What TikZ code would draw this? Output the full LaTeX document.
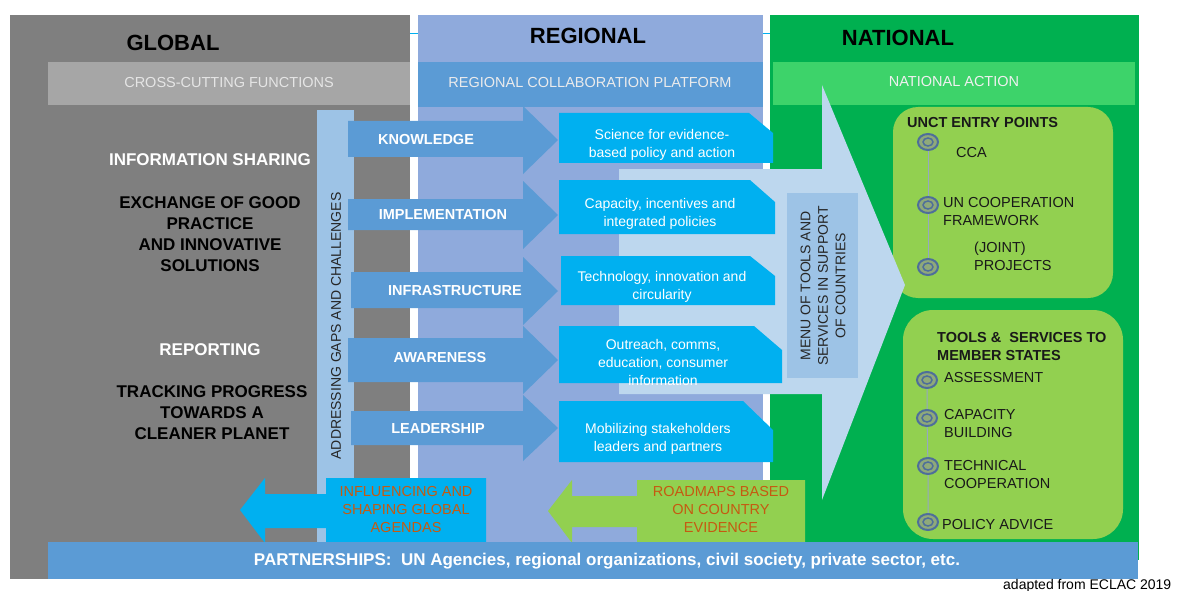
\documentclass[tikz,border=0pt]{standalone}
\usepackage{fontspec}
\setmainfont{Liberation Sans}
\usetikzlibrary{shapes.geometric}

\definecolor{panelgray}{HTML}{7F7F7F}
\definecolor{crossgray}{HTML}{A6A6A6}
\definecolor{regblue}{HTML}{8FAADC}
\definecolor{midblue}{HTML}{5B9BD5}
\definecolor{natgreen}{HTML}{00B050}
\definecolor{actgreen}{HTML}{3DD36A}
\definecolor{paleblue}{HTML}{9DC3E6}
\definecolor{skyblue}{HTML}{00B0F0}
\definecolor{menublue}{HTML}{BDD7EE}
\definecolor{leafgreen}{HTML}{92D050}
\definecolor{rust}{HTML}{C55A11}
\definecolor{ringblue}{HTML}{4E6E9A}
\definecolor{ringfill}{HTML}{8FA97A}

\begin{document}
\begin{tikzpicture}[x=1pt,y=-1pt,
  every node/.style={inner sep=0pt,align=center},
  title/.style={font=\fontsize{22}{26}\selectfont\bfseries},
  bartext/.style={font=\fontsize{14.5}{17}\selectfont},
  globtext/.style={font=\fontsize{17}{21}\selectfont\bfseries},
  chevtext/.style={font=\fontsize{14.5}{17}\selectfont\bfseries,white},
  boxtext/.style={font=\fontsize{14}{18}\selectfont,white},
  sidetext/.style={font=\fontsize{14}{17.5}\selectfont,black!85,rotate=90},
  item/.style={font=\fontsize{14.5}{18}\selectfont,anchor=west,align=left,black!90},
  backtext/.style={font=\fontsize{14.5}{18}\selectfont,rust},
  ring/.style={ellipse,draw=ringblue,line width=2pt,fill=ringfill,
    minimum width=20pt,minimum height=16pt,
    path picture={\draw[ringblue,line width=1.5pt]
      (path picture bounding box.center) ellipse [x radius=5,y radius=4];}},
  link/.style={draw=ringblue!60,line width=1pt}]

\fill[white] (0,0) rectangle (1178,591);
\useasboundingbox (0,0) rectangle (1178,591);

\draw[skyblue,line width=1pt] (405,34) -- (775,34);

\fill[panelgray] (10,15) rectangle (410,579);
\fill[regblue]   (418,15) rectangle (763,560);
\fill[natgreen]  (770,15) rectangle (1139,560);

\fill[crossgray] (48,62) rectangle (410,105);
\fill[midblue]   (418,62) rectangle (763,107);
\fill[actgreen]  (773,62) rectangle (1135,105);

\fill[paleblue] (317,110) rectangle (354,545);

\fill[leafgreen,rounded corners=25pt] (893,107) rectangle (1113,298);
\fill[leafgreen,rounded corners=30pt] (903,310) rectangle (1123,539);

\fill[menublue] (619,169) -- (822,169) -- (822,85) -- (905,285) -- (822,500)
  -- (822,394) -- (619,394) -- cycle;
\fill[paleblue] (787,193) rectangle (858,378);

\fill[midblue] (348,121) -- (523,121) -- (523,106) -- (558,140) -- (523,174)
  -- (523,157) -- (348,157) -- cycle;
\fill[midblue] (348,199) -- (523,199) -- (523,181) -- (558,215) -- (523,249)
  -- (523,230) -- (348,230) -- cycle;
\fill[midblue] (351,272) -- (523,272) -- (523,257) -- (558,291) -- (523,325)
  -- (523,308) -- (351,308) -- cycle;
\fill[midblue] (348,338) -- (523,338) -- (523,326) -- (558,360) -- (523,394)
  -- (523,382) -- (348,382) -- cycle;
\fill[midblue] (351,411) -- (523,411) -- (523,395) -- (558,428) -- (523,461)
  -- (523,445) -- (351,445) -- cycle;

\fill[skyblue] (559,113) -- (749,113) -- (773,133) -- (773,163) -- (559,163) -- cycle;
\fill[skyblue] (559,180) -- (750,180) -- (775,202) -- (775,234) -- (559,234) -- cycle;
\fill[skyblue] (561,256) -- (750,256) -- (775,276) -- (775,305) -- (561,305) -- cycle;
\fill[skyblue] (559,326) -- (754,326) -- (782,350) -- (782,383) -- (559,383) -- cycle;
\fill[skyblue] (559,401) -- (743,401) -- (773,430) -- (773,462) -- (559,462) -- cycle;

\fill[skyblue] (486,478) -- (326,478) -- (326,494) -- (265,494) -- (265,478)
  -- (240,510) -- (265,543) -- (265,528) -- (326,528) -- (326,545) -- (486,545) -- cycle;
\fill[leafgreen] (805,480) -- (637,480) -- (637,496) -- (572,496) -- (572,480)
  -- (548,511) -- (572,543) -- (572,527) -- (637,527) -- (637,545) -- (805,545) -- cycle;

\fill[midblue] (48,542) rectangle (1138,579);

\node[title] (glob) at (173,43) {GLOBAL};
\node[title] (regn) at (588,36) {REGIONAL};
\node[title] (natn) at (898,38) {NATIONAL};

\node[bartext,black!10]      (cross) at (229,83) {CROSS-CUTTING FUNCTIONS};
\node[bartext,blue!5!black!8] (plat) at (590,83) {REGIONAL COLLABORATION PLATFORM};
\node[bartext,green!5!black!6] (nact) at (954,82) {NATIONAL ACTION};

\node[globtext,white] (info)  at (210,160) {INFORMATION SHARING};
\node[globtext,black] (exch)  at (210,234.5) {EXCHANGE OF GOOD\\PRACTICE\\AND INNOVATIVE\\SOLUTIONS};
\node[globtext,white] (rep)   at (210,350) {REPORTING};
\node[globtext,black] (track) at (212,413) {TRACKING PROGRESS\\TOWARDS A\\CLEANER PLANET};

\node[sidetext] (addr) at (336,326) {ADDRESSING GAPS AND CHALLENGES};

\node[chevtext] (know)  at (426,140) {KNOWLEDGE};
\node[chevtext] (impl)  at (443,215) {IMPLEMENTATION};
\node[chevtext] (infra) at (455,291) {INFRASTRUCTURE};
\node[chevtext] (aware) at (440,358) {AWARENESS};
\node[chevtext] (lead)  at (438,429) {LEADERSHIP};

\node[boxtext] (sci)  at (662,145) {Science for evidence-\\based policy and action};
\node[boxtext] (cap)  at (660,214) {Capacity, incentives and\\integrated policies};
\node[boxtext] (tech) at (662,287) {Technology, innovation and\\circularity};
\node[boxtext] (outr) at (663,362) {Outreach, comms,\\education, consumer\\information};
\node[boxtext] (mob)  at (658,439) {Mobilizing stakeholders\\leaders and partners};

\node[sidetext] (menu) at (823,286) {MENU OF TOOLS AND\\SERVICES IN SUPPORT\\OF COUNTRIES};

\node[item,font=\fontsize{14.5}{18}\selectfont\bfseries] (unct) at (907,123) {UNCT ENTRY POINTS};
\node[ring] (r1) at (928,142) {};
\node[ring] (r2) at (928,205) {};
\node[ring] (r3) at (928,267) {};
\path[link] (r1) -- (r2) -- (r3);
\node[item] (cca)  at (956,153) {CCA};
\node[item] (uncf) at (943,211.5) {UN COOPERATION\\FRAMEWORK};
\node[item] (proj) at (974,256) {(JOINT)\\PROJECTS};

\node[item,font=\fontsize{14.5}{18}\selectfont\bfseries] (tools) at (937,347) {TOOLS \&\ \ SERVICES TO\\MEMBER STATES};
\node[ring] (s1) at (927,380) {};
\node[ring] (s2) at (927,418) {};
\node[ring] (s3) at (928,466) {};
\node[ring] (s4) at (928,522) {};
\path[link] (s1) -- (s2) -- (s3) -- (s4);
\node[item] (assess) at (944,378) {ASSESSMENT};
\node[item] (capb)   at (944,424) {CAPACITY\\BUILDING};
\node[item] (techc)  at (944,474.5) {TECHNICAL\\COOPERATION};
\node[item] (policy) at (942,525) {POLICY ADVICE};

\node[backtext] (infl) at (406,510) {INFLUENCING AND\\SHAPING GLOBAL\\AGENDAS};
\node[backtext] (road) at (721,510) {ROADMAPS BASED\\ON COUNTRY\\EVIDENCE};

\node[font=\fontsize{17}{20}\selectfont\bfseries,white] (part) at (607,561)
  {PARTNERSHIPS:\ \ UN Agencies, regional organizations, civil society, private sector, etc.};

\node[font=\fontsize{14}{16}\selectfont,anchor=base west] (src) at (1003,589) {adapted from ECLAC 2019};
\end{tikzpicture}
\end{document}
